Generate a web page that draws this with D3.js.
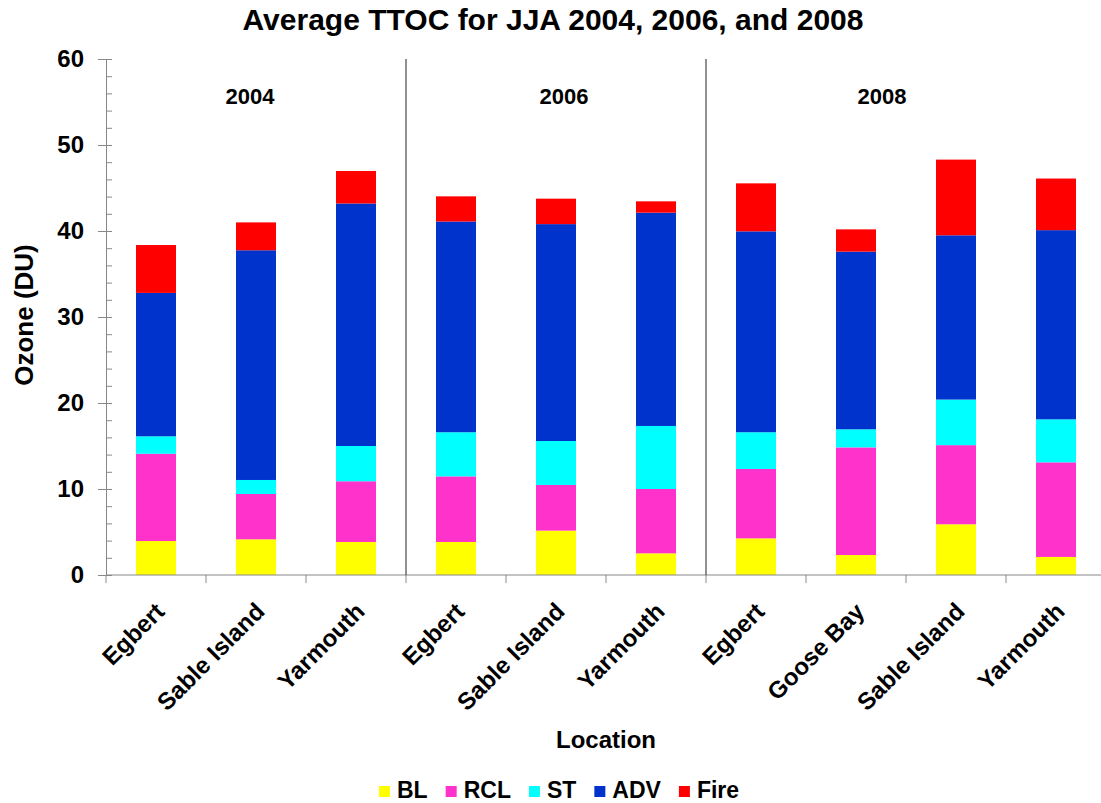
<!DOCTYPE html>
<html>
<head>
<meta charset="utf-8">
<script src="https://cdn.jsdelivr.net/npm/d3@7"></script>
<style>
  html, body { margin: 0; padding: 0; background: #fff; }
  svg { display: block; font-family: Arial, "Liberation Sans", sans-serif; font-weight: bold; }
</style>
</head>
<body>
<svg id="chart" width="1101" height="803"></svg>
<script>
// ---- data ----
const locations = ["Egbert", "Sable Island", "Yarmouth", "Egbert", "Sable Island", "Yarmouth", "Egbert", "Goose Bay", "Sable Island", "Yarmouth"];
const years = ["2004", "2006", "2008"];
const groupSizes = [3, 3, 4];
const seriesNames = ["BL", "RCL", "ST", "ADV", "Fire"];
const BL   = [3.95, 4.15, 3.84, 3.84, 5.16, 2.52, 4.26, 2.32, 5.90, 2.10];
const RCL  = [10.15, 5.27, 7.06, 7.63, 5.31, 7.48, 8.07, 12.52, 9.20, 11.00];
const ST   = [2.03, 1.63, 4.10, 5.13, 5.11, 7.33, 4.27, 2.10, 5.30, 5.00];
const ADV  = [16.67, 26.71, 28.20, 24.50, 25.22, 24.80, 23.36, 20.66, 19.10, 22.00];
const Fire = [5.57, 3.24, 3.78, 2.93, 2.96, 1.32, 5.58, 2.59, 8.80, 6.00];
const yTicks = [0, 10, 20, 30, 40, 50, 60];
const colors = ["#FFFF00", "#FF33CC", "#00FFFF", "#0033CC", "#FF0000"];

// ---- build table ----
const seriesVals = [BL, RCL, ST, ADV, Fire];
const rows = locations.map((loc, i) => {
  const r = { idx: i, loc };
  seriesNames.forEach((s, k) => r[s] = seriesVals[k][i]);
  return r;
});

const svg = d3.select("#chart");
const mLeft = 106, mRight = 1106, mTop = 59, mBottom = 575;

const x = d3.scaleBand().domain(d3.range(locations.length)).range([mLeft, mRight])
  .paddingInner(0.6).paddingOuter(0.3);
const y = d3.scaleLinear().domain([0, 60]).range([mBottom, mTop]);
const color = d3.scaleOrdinal().domain(seriesNames).range(colors);
const gapHalf = (x.step() - x.bandwidth()) / 2;

// title
svg.append("text").attr("x", 553).attr("y", 30).attr("text-anchor", "middle")
  .attr("font-size", 30).text("Average TTOC for JJA 2004, 2006, and 2008");

// bars
const stack = d3.stack().keys(seriesNames)(rows);
svg.append("g").selectAll("g").data(stack).join("g")
  .attr("fill", d => color(d.key))
  .selectAll("rect").data(d => d).join("rect")
  .attr("x", d => x(d.data.idx))
  .attr("width", x.bandwidth())
  .attr("y", d => y(d[1]))
  .attr("height", d => y(d[0]) - y(d[1]));

// y axis major
const yAxis = svg.append("g").attr("transform", `translate(${mLeft},0)`)
  .call(d3.axisLeft(y).tickValues(yTicks).tickSizeInner(8).tickSizeOuter(0).tickPadding(14));
yAxis.selectAll("text").attr("font-size", 24).attr("font-weight", "bold").attr("fill", "#000")
  .attr("font-family", 'Arial, "Liberation Sans", sans-serif');
yAxis.selectAll("line, path").attr("stroke", "#888");
// y minor ticks (right side)
const yMinor = svg.append("g").attr("transform", `translate(${mLeft},0)`)
  .call(d3.axisRight(y).tickValues(d3.range(0, 61, 2)).tickSize(6).tickFormat(""));
yMinor.select("path").remove();
yMinor.selectAll("line").attr("stroke", "#888");

// x axis
const boundaries = d3.range(locations.length + 1).map(i => i < locations.length ? x(i) - gapHalf : x(i - 1) + x.bandwidth() + gapHalf);
svg.append("line").attr("x1", mLeft).attr("x2", mRight).attr("y1", mBottom).attr("y2", mBottom).attr("stroke", "#888");
svg.append("g").selectAll("line").data(boundaries).join("line")
  .attr("x1", d => d).attr("x2", d => d).attr("y1", mBottom).attr("y2", mBottom + 8).attr("stroke", "#888");

// group separators
let cum = 0;
const sepIdx = [];
groupSizes.forEach((g, i) => { cum += g; if (i < groupSizes.length - 1) sepIdx.push(cum); });
svg.append("g").selectAll("line").data(sepIdx).join("line")
  .attr("x1", d => boundaries[d]).attr("x2", d => boundaries[d])
  .attr("y1", y(60)).attr("y2", mBottom).attr("stroke", "#222").attr("stroke-width", 1);

// year labels
const yearX = [x(1) + x.bandwidth() / 2 - 6, x(4) + x.bandwidth() / 2 + 8, x(7) + x.bandwidth() / 2 + 26];
svg.append("g").selectAll("text").data(years).join("text")
  .attr("x", (d, i) => yearX[i]).attr("y", 104).attr("text-anchor", "middle")
  .attr("font-size", 22).text(d => d);

// x labels
svg.append("g").selectAll("text").data(locations).join("text")
  .attr("transform", (d, i) => `translate(${x(i) + x.bandwidth() / 2 + 10},${613}) rotate(-45)`)
  .attr("text-anchor", "end").attr("font-size", 24).text(d => d);

// axis titles
svg.append("text").attr("x", 606).attr("y", 748).attr("text-anchor", "middle")
  .attr("font-size", 24).text("Location");
svg.append("text").attr("transform", `translate(33,${(mTop + mBottom) / 2 - 2}) rotate(-90)`)
  .attr("text-anchor", "middle").attr("font-size", 26).text("Ozone (DU)");

// legend
const lg = svg.append("g");
let lx = 379;
seriesNames.forEach((s, k) => {
  lg.append("rect").attr("x", lx).attr("y", 786).attr("width", 11).attr("height", 11).attr("fill", colors[k]);
  const t = lg.append("text").attr("x", lx + 18).attr("y", 798).attr("font-size", 23).text(s);
  lx += 18 + t.node().getComputedTextLength() + 18;
});
</script>
</body>
</html>
